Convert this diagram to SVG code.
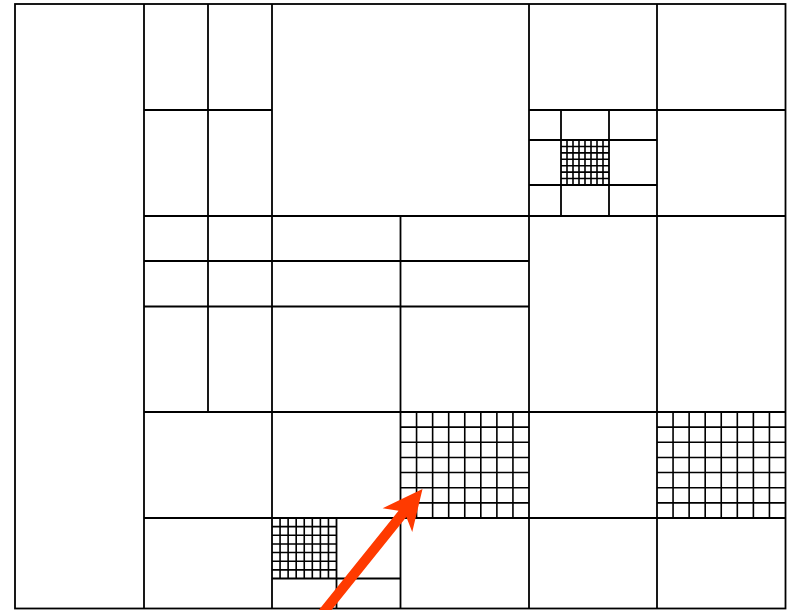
<svg xmlns="http://www.w3.org/2000/svg" width="794" height="610" viewBox="0 0 794 610">
  <style>
    .ln { fill: none; stroke: #000; stroke-width: 1.8; }
    .fine { fill: none; stroke: #000; stroke-width: 1.6; }
    .arrow { fill: #ff3a00; stroke: none; }
  </style>
  <rect x="0" y="0" width="794" height="610" fill="#fff"/>
  <g id="cells">
    <rect class="ln" x="15" y="4" width="770.5" height="604.5"/>
    <path class="ln" d="M144 4V608.5 M208 4V412 M272 4V608.5 M400.5 216V608.5 M529 4V608.5 M657 4V608.5 M336.5 518V608.5 M561 110V216 M609 110V216
      M144 110H272 M529 110H785.5 M144 216H785.5 M144 261H529 M144 306.5H529 M144 412H785.5 M144 518H785.5 M272 578.5H400.5 M529 140H657 M529 185H657"/>
  </g>
  <g id="grid-a">
    <path class="fine" d="M416.56 412V518 M432.63 412V518 M448.69 412V518 M464.75 412V518 M480.81 412V518 M496.88 412V518 M512.94 412V518
      M400.5 427.14H529 M400.5 442.29H529 M400.5 457.43H529 M400.5 472.57H529 M400.5 487.71H529 M400.5 502.86H529"/>
  </g>
  <g id="grid-b">
    <path class="fine" d="M673.06 412V518 M689.13 412V518 M705.19 412V518 M721.25 412V518 M737.31 412V518 M753.38 412V518 M769.44 412V518
      M657 427.14H785.5 M657 442.29H785.5 M657 457.43H785.5 M657 472.57H785.5 M657 487.71H785.5 M657 502.86H785.5"/>
  </g>
  <g id="grid-c">
    <path class="fine" d="M280.06 518V578.5 M288.13 518V578.5 M296.19 518V578.5 M304.25 518V578.5 M312.31 518V578.5 M320.38 518V578.5 M328.44 518V578.5
      M272 526.64H336.5 M272 535.29H336.5 M272 543.93H336.5 M272 552.57H336.5 M272 561.21H336.5 M272 569.86H336.5"/>
  </g>
  <g id="grid-d">
    <path class="fine" d="M567 140V185 M573 140V185 M579 140V185 M585 140V185 M591 140V185 M597 140V185 M603 140V185
      M561 146.43H609 M561 152.86H609 M561 159.29H609 M561 165.71H609 M561 172.14H609 M561 178.57H609"/>
  </g>
  <g id="pointer" transform="translate(422.5,489) rotate(-51.2)">
    <polygon class="arrow" points="0,0 -40,-19 -32,-5 -180,-5 -180,5 -32,5 -40,19"/>
  </g>
</svg>
